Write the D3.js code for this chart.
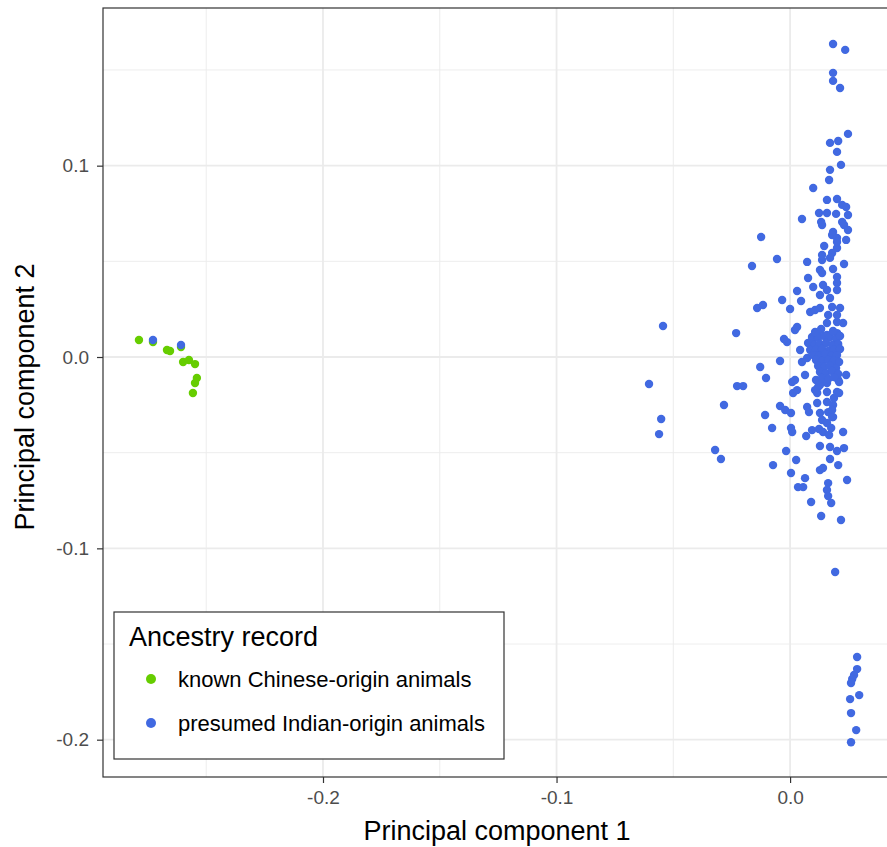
<!DOCTYPE html>
<html>
<head>
<meta charset="utf-8">
<style>
    body {
        margin: 0;
        background: #fff;
    }

    svg {
        display: block;
        font-family: "Liberation Sans", Arial, sans-serif;
    }

    .grid line {
        stroke: #ebebeb;
    }

    .axis .domain {
        display: none;
    }

    .axis .tick line {
        stroke: #333;
        stroke-width: 1.2px;
    }

    .axis .tick text {
        fill: #4d4d4d;
        font-size: 19px;
    }
</style>
</head>
<body>
<svg width="887" height="847"></svg>

<script src="https://d3js.org/d3.v7.min.js"></script>
<script>
    // PCA scores
    let chinesePC1 = [-0.2788, -0.2728, -0.2668, -0.2655, -0.2608, -0.2599, -0.2574, -0.2548, -0.2540, -0.2548, -0.2557];
    let chinesePC2 = [0.0089, 0.0078, 0.0037, 0.0031, 0.0052, -0.0026, -0.0016, -0.0037, -0.0110, -0.0136, -0.0188];

    let indianPC1 = [
        0.0184, 0.0236, 0.0184, 0.0184, 0.0214, 0.0248, 0.0171, 0.0206, 0.0201, 0.0218,
        0.0171, 0.0167, 0.0099, 0.0158, 0.0201, 0.0223, 0.0240, 0.0124, 0.0158, 0.0197,
        0.0248, 0.0051, 0.0133, 0.0137, 0.0223, 0.0231, 0.0248, 0.0184, 0.0180, 0.0201,
        0.0240, -0.0124, 0.0146, 0.0201, 0.0180, -0.0056, -0.0163, 0.0073, 0.0137, 0.0171,
        0.0231, 0.0128, 0.0184, 0.0077, 0.0137, 0.0201, 0.0099, 0.0141, 0.0201, 0.0030,
        0.0158, 0.0201, -0.0034, 0.0047, 0.0128, 0.0171, -0.0141, -0.0116, 0.0000, 0.0086,
        0.0107, 0.0128, 0.0180, 0.0214, -0.0544, -0.0231, 0.0030, 0.0021, 0.0094, 0.0158,
        0.0201, 0.0227, -0.0013, 0.0116, 0.0158, 0.0201, 0.0077, 0.0137, 0.0201, 0.0163,
        0.0201, -0.0026, 0.0043, 0.0073, -0.0043, -0.0128, -0.0103, -0.0604, -0.0227, -0.0201,
        -0.0283, -0.0552, -0.0561, -0.0107, -0.0077, -0.0043, -0.0021, 0.0004, 0.0004, 0.0009,
        0.0009, 0.0021, 0.0013, 0.0030, 0.0064, 0.0051, 0.0073, 0.0081, 0.0069, 0.0094,
        0.0124, 0.0141, 0.0167, 0.0176, 0.0227, 0.0128, 0.0171, 0.0201, 0.0231, -0.0017,
        -0.0321, -0.0296, -0.0073, 0.0026, 0.0171, 0.0206, 0.0004, 0.0128, 0.0141, 0.0064,
        0.0244, 0.0034, 0.0056, 0.0163, 0.0158, 0.0163, 0.0090, 0.0176, 0.0133, 0.0218,
        0.0193, 0.0116, 0.0128, 0.0158, 0.0163, 0.0184, 0.0184, 0.0137, 0.0158, 0.0188,
        0.0201, 0.0210, 0.0158, 0.0116, 0.0111, 0.0120, 0.0158, 0.0206, 0.0240, 0.0210,
        0.0107, 0.0128, 0.0180, 0.0180,
        0.0287, 0.0287, 0.0274, 0.0266, 0.0261, 0.0296, 0.0257, 0.0261, 0.0283, 0.0261,
        0.0094, 0.0120, 0.0146, 0.0171, 0.0197, 0.0214, 0.0103, 0.0128, 0.0154, 0.0180,
        0.0206, 0.0086, 0.0111, 0.0137, 0.0163, 0.0188, 0.0214, 0.0099, 0.0124, 0.0150,
        0.0176, 0.0201, 0.0111, 0.0137, 0.0163, 0.0188, 0.0210, 0.0120, 0.0146, 0.0171,
        0.0197, 0.0128, 0.0154, 0.0180, 0.0206, 0.0137, 0.0163, 0.0188, 0.0107, 0.0133,
        0.0184,
        -0.2728, -0.2608
    ];
    let indianPC2 = [
        0.1636, 0.1605, 0.1485, 0.1443, 0.1406, 0.1166, 0.1119, 0.1129, 0.1072, 0.1004,
        0.0978, 0.0925, 0.0883, 0.0821, 0.0826, 0.0795, 0.0784, 0.0753, 0.0753, 0.0748,
        0.0742, 0.0721, 0.0706, 0.0690, 0.0706, 0.0690, 0.0664, 0.0653, 0.0638, 0.0622,
        0.0612, 0.0627, 0.0580, 0.0570, 0.0544, 0.0512, 0.0476, 0.0497, 0.0507, 0.0518,
        0.0486, 0.0455, 0.0460, 0.0413, 0.0439, 0.0418, 0.0366, 0.0376, 0.0387, 0.0345,
        0.0350, 0.0350, 0.0298, 0.0293, 0.0324, 0.0308, 0.0256, 0.0272, 0.0251, 0.0235,
        0.0246, 0.0256, 0.0261, 0.0256, 0.0162, 0.0125, 0.0157, 0.0141, 0.0105, 0.0178,
        0.0183, 0.0178, 0.0078, 0.0115, 0.0115, 0.0125, 0.0073, 0.0533, 0.0601, 0.0220,
        0.0220, 0.0094, 0.0037, -0.0005, -0.0021, -0.0052, -0.0110, -0.0141, -0.0152, -0.0152,
        -0.0251, -0.0324, -0.0403, -0.0303, -0.0371, -0.0256, -0.0277, -0.0293, -0.0371, -0.0392,
        -0.0131, -0.0120, -0.0188, -0.0173, -0.0094, -0.0026, -0.0261, -0.0288, -0.0413, -0.0382,
        -0.0376, -0.0392, -0.0408, -0.0371, -0.0392, -0.0465, -0.0470, -0.0491, -0.0476, -0.0491,
        -0.0486, -0.0533, -0.0565, -0.0538, -0.0533, -0.0565, -0.0606, -0.0591, -0.0580, -0.0633,
        -0.0643, -0.0680, -0.0680, -0.0659, -0.0695, -0.0727, -0.0758, -0.0763, -0.0831, -0.0852,
        -0.1124, -0.0240, -0.0293, -0.0235, -0.0288, -0.0251, -0.0314, -0.0329, -0.0345, -0.0214,
        -0.0183, -0.0188, -0.0183, -0.0188, -0.0120, -0.0157, -0.0136, -0.0120, -0.0094, -0.0131,
        -0.0173, -0.0146, -0.0277, -0.0314,
        -0.1568, -0.1631, -0.1662, -0.1683, -0.1704, -0.1767, -0.1788, -0.1861, -0.1950, -0.2013,
        0.0089, 0.0099, 0.0110, 0.0105, 0.0094, 0.0110, 0.0063, 0.0068, 0.0073, 0.0063,
        0.0068, 0.0037, 0.0037, 0.0042, 0.0031, 0.0037, 0.0042, 0.0010, 0.0005, 0.0016,
        0.0005, 0.0010, -0.0016, -0.0021, -0.0016, -0.0021, -0.0026, -0.0047, -0.0052, -0.0047,
        -0.0058, -0.0078, -0.0084, -0.0073, -0.0089, -0.0110, -0.0115, -0.0105, 0.0131, 0.0146,
        0.0136,
        0.0089, 0.0063
    ];

    let groups = ["known Chinese-origin animals", "presumed Indian-origin animals"];
    let groupColors = ["#66cd00", "#4169e1"];
    let legendTitle = "Ancestry record";

    let xTicks = [-0.2, -0.1, 0.0];
    let yTicks = [-0.2, -0.1, 0.0, 0.1];
    let xMinor = [-0.25, -0.15, -0.05];
    let yMinor = [-0.15, -0.05, 0.05, 0.15];

    let chinese = chinesePC1.map((v, i) => ({ pc1: v, pc2: chinesePC2[i], group: 0 }));
    let indian = indianPC1.map((v, i) => ({ pc1: v, pc2: indianPC2[i], group: 1 }));

    let margin = { top: 8, right: 0, bottom: 70, left: 103 };
    let width = 887;
    let height = 847;

    let svg = d3.select("body").select("svg");

    let x = d3.scaleLinear()
        .domain([-0.2942, 0.0415])
        .range([margin.left, width - margin.right]);

    let y = d3.scaleLinear()
        .domain([-0.2195, 0.1824])
        .range([height - margin.bottom, margin.top]);

    let fmt = d => d.toFixed(1);

    // grid: minor first, then major
    let grid = svg.append("g").attr("class", "grid");

    grid.selectAll(".xminor").data(xMinor).join("line")
        .attr("x1", d => x(d)).attr("x2", d => x(d))
        .attr("y1", y.range()[0]).attr("y2", y.range()[1])
        .style("stroke-width", "0.9px");
    grid.selectAll(".yminor").data(yMinor).join("line")
        .attr("y1", d => y(d)).attr("y2", d => y(d))
        .attr("x1", x.range()[0]).attr("x2", x.range()[1])
        .style("stroke-width", "0.9px");
    grid.selectAll(".xmajor").data(xTicks).join("line")
        .attr("x1", d => x(d)).attr("x2", d => x(d))
        .attr("y1", y.range()[0]).attr("y2", y.range()[1])
        .style("stroke-width", "1.8px");
    grid.selectAll(".ymajor").data(yTicks).join("line")
        .attr("y1", d => y(d)).attr("y2", d => y(d))
        .attr("x1", x.range()[0]).attr("x2", x.range()[1])
        .style("stroke-width", "1.8px");

    // points
    svg.append("g")
        .selectAll("circle")
        .data(chinese.concat(indian))
        .join("circle")
        .attr("cx", d => x(d.pc1))
        .attr("cy", d => y(d.pc2))
        .attr("r", 4.2)
        .style("fill", d => groupColors[d.group]);

    // panel border (right side falls off the picture)
    svg.append("rect")
        .attr("x", margin.left)
        .attr("y", margin.top)
        .attr("width", width - margin.left + 5)
        .attr("height", y.range()[0] - margin.top)
        .style("fill", "none")
        .style("stroke", "#333")
        .style("stroke-width", "1.2px");

    svg.append("g")
        .attr("class", "x axis")
        .attr("transform", `translate(0,${y.range()[0]})`)
        .call(d3.axisBottom(x).tickValues(xTicks).tickFormat(fmt).tickSize(6).tickPadding(8));

    svg.append("g")
        .attr("class", "y axis")
        .attr("transform", `translate(${margin.left},0)`)
        .call(d3.axisLeft(y).tickValues(yTicks).tickFormat(fmt).tickSize(6).tickPadding(8));

    // axis titles
    svg.append("text")
        .attr("x", 497)
        .attr("y", 840)
        .attr("text-anchor", "middle")
        .style("font-size", "27px")
        .style("fill", "#000")
        .text("Principal component 1");

    svg.append("text")
        .attr("transform", "translate(34,397) rotate(-90)")
        .attr("text-anchor", "middle")
        .style("font-size", "27px")
        .style("fill", "#000")
        .text("Principal component 2");

    // legend
    let legend = svg.append("g").attr("transform", "translate(114,612)");

    legend.append("rect")
        .attr("width", 390)
        .attr("height", 147)
        .style("fill", "#fff")
        .style("stroke", "#333")
        .style("stroke-width", "1.2px");

    legend.append("text")
        .attr("x", 15)
        .attr("y", 34)
        .style("font-size", "27px")
        .text(legendTitle);

    let items = legend.selectAll(".item")
        .data(groups)
        .join("g")
        .attr("transform", (d, i) => `translate(0,${67 + i * 44})`);

    items.append("circle")
        .attr("cx", 37)
        .attr("r", 5)
        .style("fill", (d, i) => groupColors[i]);

    items.append("text")
        .attr("x", 64)
        .attr("y", 8)
        .style("font-size", "22px")
        .text(d => d);
</script>
</body>
</html>
